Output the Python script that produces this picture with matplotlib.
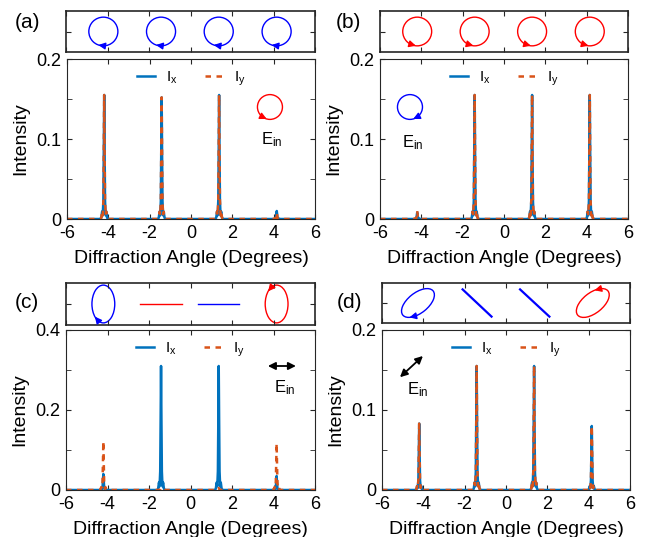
import matplotlib
matplotlib.use("Agg")
import matplotlib.pyplot as plt
from matplotlib.patches import Ellipse
import numpy as np

plt.rcParams['font.family'] = ['Liberation Sans', 'DejaVu Sans']
plt.rcParams['mathtext.fontset'] = 'custom'
plt.rcParams['mathtext.rm'] = 'Liberation Sans'
plt.rcParams['mathtext.it'] = 'Liberation Sans'
plt.rcParams['axes.unicode_minus'] = False

W, H = 647, 537

# diffraction orders (degrees)
peak_x = [-4.2, -1.42, 1.36, 4.15]
# shape of one peak (offset in degrees, fraction of height)
profile_dx = [-0.2, -0.14, -0.1, -0.07, -0.04, -0.02, 0, 0.02, 0.04, 0.07, 0.1, 0.14, 0.2]
profile_f = [0, 0.01, 0.06, 0.03, 0.15, 0.55, 1, 0.55, 0.15, 0.03, 0.06, 0.01, 0]

# peak heights per panel
ix_a = [0.155, 0.152, 0.155, 0.010]
iy_a = [0.155, 0.152, 0.155, 0.008]
ix_b = [0.008, 0.155, 0.155, 0.155]
iy_b = [0.010, 0.155, 0.155, 0.155]
ix_c = [0.040, 0.310, 0.310, 0.035]
iy_c = [0.122, 0.005, 0.005, 0.117]
ix_d = [0.083, 0.155, 0.155, 0.080]
iy_d = [0.083, 0.155, 0.155, 0.080]

ymax = [0.2, 0.2, 0.4, 0.2]
labels = ["(a)", "(b)", "(c)", "(d)"]

BLUE = "#0072BD"
ORANGE = "#D95319"
FRAME = "#262626"


def rect(x0, y0, x1, y1):
    return [x0 / W, 1 - y1 / H, (x1 - x0) / W, (y1 - y0) / H]


def spectrum(heights):
    xs, ys = [-6.0], [0.0]
    for p, h in zip(peak_x, heights):
        for dx, f in zip(profile_dx, profile_f):
            xs.append(p + dx)
            ys.append(h * f)
    xs.append(6.0)
    ys.append(0.0)
    return xs, ys


def ellipse_arrow(ax, cx, cy, a, b, t, sign, color, angle=0, ms=10, eps=0.4):
    """arrow head sitting on an ellipse at parameter t (deg), sign +1 ccw, -1 cw"""
    phi = np.radians(angle)
    rot = np.array([[np.cos(phi), -np.sin(phi)], [np.sin(phi), np.cos(phi)]])
    def pt(tt):
        return np.array([cx, cy]) + rot @ np.array([a * np.cos(tt), b * np.sin(tt)])
    tr = np.radians(t)
    tip = pt(tr)
    tail = pt(tr - sign * eps)
    ax.annotate("", xy=tip, xytext=tail,
                arrowprops=dict(arrowstyle="-|>", color=color, lw=1,
                                mutation_scale=ms, shrinkA=0, shrinkB=0))


def style_box(ax, lw):
    for s in ax.spines.values():
        s.set_linewidth(lw)
        s.set_color(FRAME)
    ax.tick_params(which="both", direction="in", top=True, right=True,
                   length=3.5, color=FRAME)


fig = plt.figure(figsize=(W / 100, H / 100), dpi=100)

inset_rects = [(66, 11, 315, 52), (380, 11, 628, 52),
               (66, 283, 315, 325), (382, 283, 630, 323)]
main_rects = [(67, 59, 315, 219), (380, 59, 628, 219),
              (66, 330, 315, 490), (382, 330, 630, 490)]
label_pos = [(27, 22), (348, 22), (27, 302), (349, 302)]
ix_all = [ix_a, ix_b, ix_c, ix_d]
iy_all = [iy_a, iy_b, iy_c, iy_d]

for k in range(4):
    # ---- main spectrum
    ax = fig.add_axes(rect(*main_rects[k]))
    x1, y1 = spectrum(ix_all[k])
    x2, y2 = spectrum(iy_all[k])
    ax.plot(x1, y1, color=BLUE, lw=1.8, label=r"I$_\mathrm{x}$")
    ax.plot(x2, y2, color=ORANGE, lw=1.8, ls=(0, (2.2, 2.2)), label=r"I$_\mathrm{y}$")
    ax.set_xlim(-6, 6)
    ax.set_ylim(0, ymax[k])
    ax.set_xticks(range(-6, 7, 2))
    ym = ymax[k]
    ax.set_yticks([0, ym / 2, ym])
    ax.set_yticklabels(["0", "%g" % (ym / 2), "%g" % ym])
    ax.set_yticks([ym / 4, 3 * ym / 4], minor=True)
    style_box(ax, 0.8)
    ax.tick_params(which="both", labelsize=13)
    ax.tick_params(axis="x", pad=4)
    ax.tick_params(axis="y", pad=4)
    ax.set_xlabel("Diffraction Angle (Degrees)", fontsize=14, labelpad=6)
    ax.set_ylabel("Intensity", fontsize=14, labelpad=5)
    ax.legend(loc="upper center", ncol=2, frameon=False, fontsize=11,
              handlelength=1.2, columnspacing=1.8, handletextpad=0.7,
              borderaxespad=0.3)

    # ---- incident polarisation glyph
    if k == 0:
        ax.add_patch(Ellipse((3.82, 0.14), 1.21, 0.031, fill=False, color="red", lw=1))
        ellipse_arrow(ax, 3.82, 0.14, 0.605, 0.0155, 255, 1, "red")
        ax.text(3.92, 0.099, r"E$_\mathrm{in}$", fontsize=12, ha="center", va="center")
    elif k == 1:
        ax.add_patch(Ellipse((-4.55, 0.14), 1.21, 0.031, fill=False, color="blue", lw=1))
        ellipse_arrow(ax, -4.55, 0.14, 0.605, 0.0155, 285, -1, "blue")
        ax.text(-4.4, 0.095, r"E$_\mathrm{in}$", fontsize=12, ha="center", va="center")
    elif k == 2:
        ax.annotate("", xy=(5.08, 0.31), xytext=(3.73, 0.31),
                    arrowprops=dict(arrowstyle="<|-|>", color="black", lw=1.3,
                                    mutation_scale=11, shrinkA=0, shrinkB=0))
        ax.text(4.55, 0.255, r"E$_\mathrm{in}$", fontsize=12, ha="center", va="center")
    else:
        ax.annotate("", xy=(-4.02, 0.1675), xytext=(-5.13, 0.141),
                    arrowprops=dict(arrowstyle="<|-|>", color="black", lw=1.3,
                                    mutation_scale=11, shrinkA=0, shrinkB=0))
        ax.text(-4.26, 0.125, r"E$_\mathrm{in}$", fontsize=12, ha="center", va="center")

    # ---- inset with output polarisation states
    ins = fig.add_axes(rect(*inset_rects[k]))
    ins.set_xlim(-6, 6)
    ins.set_ylim(-1, 1)
    ins.set_xticks(range(-6, 7, 2))
    ins.set_yticks([0])
    ins.set_xticklabels([])
    ins.set_yticklabels([])
    style_box(ins, 1.2)

    if k == 0:
        for p in peak_x:
            ins.add_patch(Ellipse((p, 0), 1.4, 1.4, fill=False, color="blue", lw=1))
            ellipse_arrow(ins, p, 0, 0.7, 0.7, 250, -1, "blue")
    elif k == 1:
        for p in peak_x:
            ins.add_patch(Ellipse((p, 0), 1.4, 1.4, fill=False, color="red", lw=1))
            ellipse_arrow(ins, p, 0, 0.7, 0.7, 265, 1, "red")
    elif k == 2:
        ins.add_patch(Ellipse((peak_x[0], 0), 1.1, 1.8, fill=False, color="blue", lw=1))
        ellipse_arrow(ins, peak_x[0], 0, 0.55, 0.9, 222, -1, "blue")
        ins.plot([peak_x[1] - 1.0, peak_x[1] + 1.0], [0, 0], color="red", lw=1)
        ins.plot([peak_x[2] - 1.0, peak_x[2] + 1.0], [0, 0], color="blue", lw=1)
        ins.add_patch(Ellipse((peak_x[3], 0), 1.1, 1.8, fill=False, color="red", lw=1))
        ellipse_arrow(ins, peak_x[3], 0, 0.55, 0.9, 138, 1, "red")
    else:
        ins.add_patch(Ellipse((-4.26, 0), 1.9, 1.0, angle=40, fill=False, color="blue", lw=1))
        ellipse_arrow(ins, -4.26, 0, 0.95, 0.5, 215, -1, "blue", angle=40)
        ins.plot([-2.1, -0.7], [0.68, -0.68], color="blue", lw=1.6)
        ins.plot([0.68, 2.1], [0.68, -0.68], color="blue", lw=1.6)
        ins.add_patch(Ellipse((4.2, 0), 1.9, 1.0, angle=40, fill=False, color="red", lw=1))
        ellipse_arrow(ins, 4.2, 0, 0.95, 0.5, 60, 1, "red", angle=40)

    fig.text(label_pos[k][0] / W, 1 - label_pos[k][1] / H, labels[k],
             fontsize=15, ha="center", va="center")

fig.savefig("out.png", dpi=100)
